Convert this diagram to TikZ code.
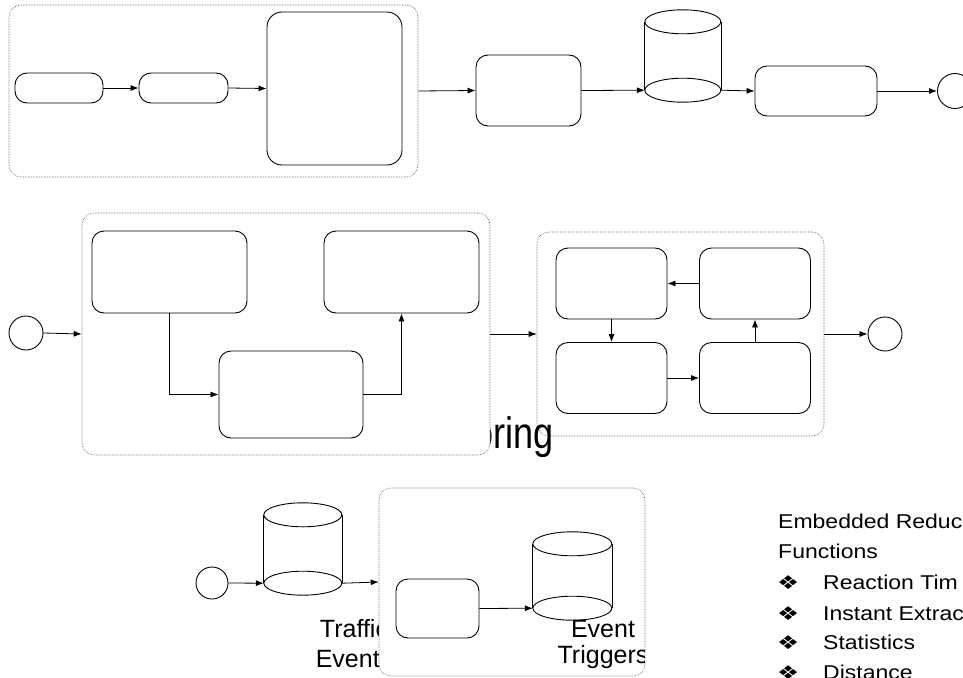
\documentclass[tikz,border=0pt]{standalone}
\usepackage{fontspec}
\setmainfont{Liberation Sans}
\newfontfamily\wideFont[FakeStretch=1.15]{Liberation Sans}
\newfontfamily\narrowFont[FakeStretch=0.82]{Liberation Sans}
\newfontfamily\symFont[FakeStretch=1.3]{DejaVu Sans}
\usetikzlibrary{arrows.meta}
\usetikzlibrary{calc}

% vertical data store drawn over an empty node #1, #2 = half width
\newcommand{\dbshape}[2]{%
  \path (#1.north west) ++(0pt,-12pt) coordinate (#1tl)
        (#1.north east) ++(0pt,-12pt) coordinate (#1tr)
        (#1.south west) ++(0pt,12pt) coordinate (#1bl)
        (#1.south east) ++(0pt,12pt) coordinate (#1br);
  \draw[dbline] (#1tl) -- (#1bl) (#1tr) -- (#1br);
  \draw[dbline] (#1tl) arc[start angle=180, end angle=-180, x radius=#2, y radius=12pt];
  \draw[dbline] (#1bl) arc[start angle=180, end angle=-180, x radius=#2, y radius=12pt];
}

\begin{document}
\begin{tikzpicture}[x=1pt, y=-1pt]
  \tikzstyle{group}=[rectangle, rounded corners=12pt, draw=black!70, densely dotted, line width=0.6pt, fill=white, inner sep=0pt]
  \tikzstyle{task}=[rectangle, rounded corners=12pt, draw=black, line width=0.9pt, fill=white, inner sep=0pt]
  \tikzstyle{event}=[circle, draw=black, line width=0.9pt, fill=white, inner sep=0pt]
  \tikzstyle{store}=[rectangle, inner sep=0pt, draw=none]
  \tikzstyle{dbline}=[line width=0.9pt]
  \tikzstyle{connect}=[-{Latex[length=8pt,width=6pt]}, line width=0.8pt]
  \tikzstyle{caption}=[inner sep=0pt, anchor=base, font=\fontsize{25}{25}\selectfont]
  \tikzstyle{listtext}=[inner sep=0pt, anchor=base west, font=\wideFont\fontsize{20}{20}\selectfont]
  \tikzstyle{bulletmark}=[inner sep=0pt, anchor=base west, font=\symFont\fontsize{19}{19}\selectfont]

  \useasboundingbox (0,0) rectangle (963,677);
  \clip (0,0) rectangle (963,677);

  % top row
  \node[group, minimum width=409pt, minimum height=172pt] (collect) at (213.5,91) {};
  \node[task, minimum width=88pt, minimum height=30pt] (read) at (59,88) {};
  \node[task, minimum width=89pt, minimum height=30pt] (parse) at (183.5,88) {};
  \node[task, minimum width=135pt, minimum height=153pt, rounded corners=15pt] (merge) at (334.5,88.5) {};
  \node[task, minimum width=105pt, minimum height=71pt] (design) at (528.5,90.5) {};
  \node[store, minimum width=76pt, minimum height=92pt] (model) at (683,56) {};
  \dbshape{model}{38pt}
  \node[task, minimum width=122pt, minimum height=50pt] (publish) at (816,91) {};
  \node[event, minimum size=35pt] (finish) at (955,91) {};

  \draw[connect] (read.east) -- (parse.west);
  \draw[connect] (parse.east) -- (merge.west);
  \draw[connect] (collect.east) -- (design.west);
  \draw[connect] (design.east) -- (modelbl);
  \draw[connect] (modelbr) -- (publish.west);
  \draw[connect] (publish.east) -- (finish.west);

  % middle row
  \node[event, minimum size=34pt] (begin) at (26,333) {};
  \node[group, minimum width=287pt, minimum height=204pt] (loop) at (680.5,334) {};
  \foreach \name/\x/\y in {check/611.5/283.5, score/755/283.5, match/611.5/378, update/755/378}
    \node[task, minimum width=111pt, minimum height=71pt] (\name) at (\x,\y) {};
  \node[inner sep=0pt, anchor=base east, font=\narrowFont\fontsize{44}{44}\selectfont] (monlabel) at (554,448) {oring};
  \node[group, minimum width=408pt, minimum height=242pt] (process) at (286,334) {};
  \node[task, minimum width=155pt, minimum height=82pt] (prepare) at (169.5,272) {};
  \node[task, minimum width=155pt, minimum height=82pt] (present) at (401.5,272) {};
  \node[task, minimum width=144pt, minimum height=87pt] (combine) at (291,394.5) {};
  \node[event, minimum size=34pt] (done) at (885,334) {};

  \draw[connect] (begin.east) -- (process.west);
  \draw[connect] (prepare.south) |- (combine.west);
  \draw[connect] (combine.east) -| (present.south);
  \draw[connect] (process.east) -- (loop.west);
  \draw[connect] (score.west) -- (check.east);
  \draw[connect] (check.south) -- (match.north);
  \draw[connect] (match.east) -- (update.west);
  \draw[connect] (update.north) -- (score.south);
  \draw[connect] (loop.east) -- (done.west);

  % bottom row
  \node[event, minimum size=32pt] (source) at (212,583) {};
  \node[store, minimum width=78pt, minimum height=92pt] (rawdb) at (303,549) {};
  \dbshape{rawdb}{39pt}
  \node[caption] (traffic1) at (354,637) {Traffic};
  \node[caption] (traffic2) at (354,667) {Events};
  \node[group, minimum width=266pt, minimum height=188pt] (detect) at (512,582) {};
  \node[task, minimum width=83pt, minimum height=59pt] (filter) at (437.5,608.5) {};
  \node[store, minimum width=79pt, minimum height=88pt] (trigdb) at (572.5,576) {};
  \dbshape{trigdb}{39.5pt}
  \begin{scope}
    \clip (379,488) rectangle (644,677);
    \node[caption] (trig1) at (603,637) {Event};
    \node[caption] (trig2) at (603,663) {Triggers};
  \end{scope}

  \draw[connect] (source.east) -- (rawdbbl);
  \draw[connect] (rawdbbr) -- (detect.west);
  \draw[connect] (filter.east) -- (trigdbbl);

  % side notes
  \node[listtext] (head1) at (778,528) {Embedded Reduc};
  \node[listtext] (head2) at (778,558) {Functions};
  \foreach \y/\txt in {589/Reaction Tim, 620/Instant Extrac, 649/Statistics, 679/Distance} {
    \node[bulletmark] (mark\y) at (777,\y) {❖};
    \node[listtext] (entry\y) at (823,\y) {\txt};
  }
\end{tikzpicture}
\end{document}
